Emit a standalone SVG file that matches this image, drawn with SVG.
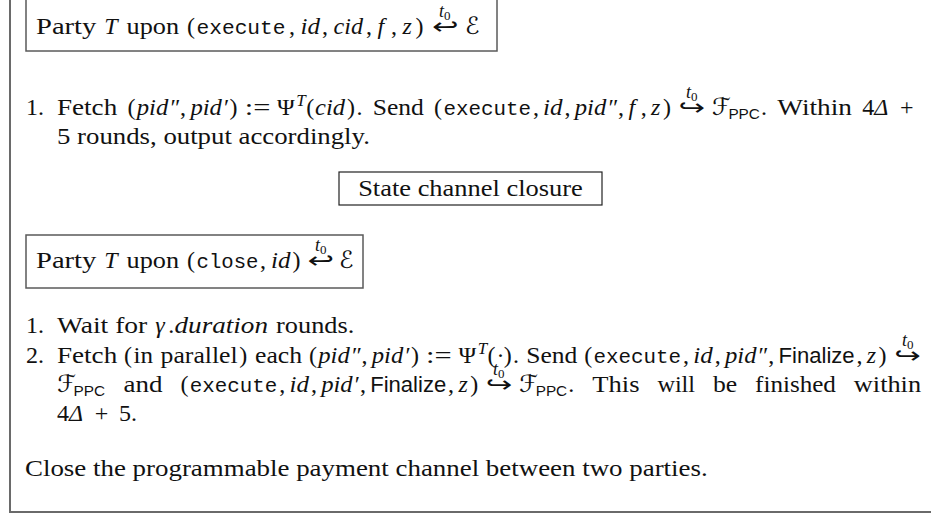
<svg xmlns="http://www.w3.org/2000/svg" width="931" height="516" viewBox="0 0 931 516">
<style>
text{font-family:"Liberation Serif","Times New Roman",serif;font-size:24px;fill:#111}
.it{font-style:italic}
.tt{font-family:"Liberation Mono","Courier New",monospace;font-size:21px;font-style:normal}
.sf{font-family:"Liberation Sans",Arial,sans-serif;font-size:22px;font-style:normal}
.sub{font-family:"Liberation Sans",Arial,sans-serif;font-size:15px}
.sup{font-style:italic;font-size:17px}
.cal{font-family:"DejaVu Serif","DejaVu Sans",serif;font-style:normal}
.ar{font-family:"DejaVu Sans",sans-serif;font-size:22px}
.lt{font-style:italic;font-size:18px}
.l0{font-size:13px;font-style:normal}
.box{fill:none;stroke:#5a5a5a;stroke-width:1.5}
.frame{fill:none;stroke:#6a6a6a;stroke-width:2}
</style>
<path class="frame" d="M10,-2 V512 H933"/>
<g id="connectors"/>

<g id="box-execute">
<rect class="box" x="26" y="-3" width="471" height="54"/>
<text y="34"><tspan x="36" textLength="60.3" lengthAdjust="spacingAndGlyphs">Party</tspan><tspan x="104.3" class="it">T</tspan><tspan x="126.5" textLength="52.5" lengthAdjust="spacingAndGlyphs">upon</tspan><tspan x="187.1">(</tspan><tspan x="196.5" class="tt" textLength="89" lengthAdjust="spacingAndGlyphs">execute</tspan><tspan x="289">,</tspan><tspan x="300.5" class="it" textLength="19.5" lengthAdjust="spacingAndGlyphs">id</tspan><tspan x="322">,</tspan><tspan x="333.5" class="it" textLength="29.5" lengthAdjust="spacingAndGlyphs">cid</tspan><tspan x="366">,</tspan><tspan x="377.5" class="it">f</tspan><tspan x="391">,</tspan><tspan x="402.5" class="it">z</tspan><tspan x="415.5">)</tspan><tspan x="432" class="ar" textLength="26.6" lengthAdjust="spacingAndGlyphs">↩</tspan><tspan x="465" class="cal">ℰ</tspan></text>
<text x="439" y="17" class="lt">t<tspan class="l0" dy="3">0</tspan></text>
</g>

<g id="step-execute">
<text y="115"><tspan x="26">1.</tspan><tspan x="57" textLength="60.2" lengthAdjust="spacingAndGlyphs">Fetch</tspan><tspan x="127.4">(</tspan><tspan x="136.8" class="it" textLength="31.5" lengthAdjust="spacingAndGlyphs">pid</tspan><tspan x="170.4">″</tspan><tspan x="180.1">,</tspan><tspan x="190.4" class="it" textLength="31.5" lengthAdjust="spacingAndGlyphs">pid</tspan><tspan x="224">′</tspan><tspan x="229.6">)</tspan><tspan x="244.7" textLength="25.6" lengthAdjust="spacingAndGlyphs">:=</tspan><tspan x="277">Ψ</tspan><tspan x="296.3" y="106" class="sup">T</tspan><tspan x="306.2" y="115">(</tspan><tspan x="315.1" class="it" textLength="30" lengthAdjust="spacingAndGlyphs">cid</tspan><tspan x="347">)</tspan><tspan x="356.4">.</tspan><tspan x="372.8" textLength="51.1" lengthAdjust="spacingAndGlyphs">Send</tspan><tspan x="434.1">(</tspan><tspan x="443.5" class="tt" textLength="87.5" lengthAdjust="spacingAndGlyphs">execute</tspan><tspan x="533">,</tspan><tspan x="543.1" class="it" textLength="19.5" lengthAdjust="spacingAndGlyphs">id</tspan><tspan x="564.5">,</tspan><tspan x="574.8" class="it" textLength="31.5" lengthAdjust="spacingAndGlyphs">pid</tspan><tspan x="608.4">″</tspan><tspan x="618.1">,</tspan><tspan x="628.4" class="it">f</tspan><tspan x="640.8">,</tspan><tspan x="651.1" class="it">z</tspan><tspan x="662.9">)</tspan><tspan x="678.5" class="ar" textLength="26.6" lengthAdjust="spacingAndGlyphs">↪</tspan><tspan x="711.8" class="cal">ℱ</tspan><tspan x="728.4" y="119" class="sub" textLength="31.5" lengthAdjust="spacingAndGlyphs">PPC</tspan><tspan x="760.9" y="115">.</tspan><tspan x="777.3" textLength="74.7" lengthAdjust="spacingAndGlyphs">Within</tspan><tspan x="862.2">4</tspan><tspan x="874.3" class="it">Δ</tspan><tspan x="899.9">+</tspan></text>
<text x="686" y="98" class="lt">t<tspan class="l0" dy="3">0</tspan></text>
<text x="57" y="144" textLength="312.9" lengthAdjust="spacingAndGlyphs">5 rounds, output accordingly.</text>
</g>

<g id="title-closure">
<rect x="339" y="172" width="263" height="33" fill="none" stroke="#222" stroke-width="1.2"/>
<text x="470.5" y="196" text-anchor="middle" textLength="224.7" lengthAdjust="spacingAndGlyphs">State channel closure</text>
</g>

<g id="box-close">
<rect class="box" x="26" y="235" width="337" height="53"/>
<text y="268"><tspan x="36" textLength="60.3" lengthAdjust="spacingAndGlyphs">Party</tspan><tspan x="104.3" class="it">T</tspan><tspan x="126.5" textLength="52.5" lengthAdjust="spacingAndGlyphs">upon</tspan><tspan x="187.1">(</tspan><tspan x="196.5" class="tt" textLength="62" lengthAdjust="spacingAndGlyphs">close</tspan><tspan x="260">,</tspan><tspan x="271" class="it" textLength="19.5" lengthAdjust="spacingAndGlyphs">id</tspan><tspan x="292.5">)</tspan><tspan x="307.5" class="ar" textLength="26.6" lengthAdjust="spacingAndGlyphs">↩</tspan><tspan x="339" class="cal">ℰ</tspan></text>
<text x="315" y="251" class="lt">t<tspan class="l0" dy="3">0</tspan></text>
</g>

<g id="steps-close">
<text y="333"><tspan x="26">1.</tspan><tspan x="57" textLength="90.2" lengthAdjust="spacingAndGlyphs">Wait for</tspan><tspan x="155.3" class="it">γ</tspan><tspan x="168.3">.</tspan><tspan x="174.5" class="it" textLength="93.5" lengthAdjust="spacingAndGlyphs">duration</tspan><tspan x="276.1" textLength="78.2" lengthAdjust="spacingAndGlyphs">rounds.</tspan></text>

<text y="363"><tspan x="26">2.</tspan><tspan x="57" textLength="60.2" lengthAdjust="spacingAndGlyphs">Fetch</tspan><tspan x="124.1">(</tspan><tspan x="133.5" textLength="19.5" lengthAdjust="spacingAndGlyphs">in</tspan><tspan x="160.6" textLength="77" lengthAdjust="spacingAndGlyphs">parallel</tspan><tspan x="239.2">)</tspan><tspan x="255" textLength="47" lengthAdjust="spacingAndGlyphs">each</tspan><tspan x="308.9">(</tspan><tspan x="318.3" class="it" textLength="31.5" lengthAdjust="spacingAndGlyphs">pid</tspan><tspan x="351.9">″</tspan><tspan x="361.6">,</tspan><tspan x="371.8" class="it" textLength="31.5" lengthAdjust="spacingAndGlyphs">pid</tspan><tspan x="405.4">′</tspan><tspan x="411">)</tspan><tspan x="426.1" textLength="25.6" lengthAdjust="spacingAndGlyphs">:=</tspan><tspan x="458.4">Ψ</tspan><tspan x="477.7" y="354" class="sup">T</tspan><tspan x="487.6" y="363">(</tspan><tspan x="496.5">·</tspan><tspan x="503.7">)</tspan><tspan x="513.1">.</tspan><tspan x="526.2" textLength="51.1" lengthAdjust="spacingAndGlyphs">Send</tspan><tspan x="584.2">(</tspan><tspan x="593.6" class="tt" textLength="87.5" lengthAdjust="spacingAndGlyphs">execute</tspan><tspan x="683">,</tspan><tspan x="693.3" class="it" textLength="19.5" lengthAdjust="spacingAndGlyphs">id</tspan><tspan x="714.7">,</tspan><tspan x="725" class="it" textLength="31.5" lengthAdjust="spacingAndGlyphs">pid</tspan><tspan x="758.6">″</tspan><tspan x="768.3">,</tspan><tspan x="778.6" class="sf" textLength="76" lengthAdjust="spacingAndGlyphs">Finalize</tspan><tspan x="856.5">,</tspan><tspan x="866.8" class="it">z</tspan><tspan x="878.6">)</tspan><tspan x="894.2" class="ar" textLength="26.6" lengthAdjust="spacingAndGlyphs">↪</tspan></text>
<text x="902" y="346" class="lt">t<tspan class="l0" dy="3">0</tspan></text>

<text y="392"><tspan x="57" class="cal">ℱ</tspan><tspan x="73.6" y="396" class="sub" textLength="31.5" lengthAdjust="spacingAndGlyphs">PPC</tspan><tspan x="123.5" y="392" textLength="39" lengthAdjust="spacingAndGlyphs">and</tspan><tspan x="180.4">(</tspan><tspan x="189.8" class="tt" textLength="87.5" lengthAdjust="spacingAndGlyphs">execute</tspan><tspan x="279.2">,</tspan><tspan x="289.5" class="it" textLength="19.5" lengthAdjust="spacingAndGlyphs">id</tspan><tspan x="310.9">,</tspan><tspan x="321.2" class="it" textLength="31.5" lengthAdjust="spacingAndGlyphs">pid</tspan><tspan x="354.8">′</tspan><tspan x="359.9">,</tspan><tspan x="370.2" class="sf" textLength="76" lengthAdjust="spacingAndGlyphs">Finalize</tspan><tspan x="448.1">,</tspan><tspan x="458.4" class="it">z</tspan><tspan x="470.2">)</tspan><tspan x="485.8" class="ar" textLength="26.6" lengthAdjust="spacingAndGlyphs">↪</tspan><tspan x="519.1" class="cal">ℱ</tspan><tspan x="535.7" y="396" class="sub" textLength="31.5" lengthAdjust="spacingAndGlyphs">PPC</tspan><tspan x="568.2" y="392">.</tspan><tspan x="592.3" textLength="47.2" lengthAdjust="spacingAndGlyphs">This</tspan><tspan x="657.4" textLength="37.7" lengthAdjust="spacingAndGlyphs">will</tspan><tspan x="713" textLength="24.2" lengthAdjust="spacingAndGlyphs">be</tspan><tspan x="755.1" textLength="80.8" lengthAdjust="spacingAndGlyphs">finished</tspan><tspan x="853.8" textLength="67.3" lengthAdjust="spacingAndGlyphs">within</tspan></text>
<text x="493" y="375" class="lt">t<tspan class="l0" dy="3">0</tspan></text>

<text y="421"><tspan x="57">4</tspan><tspan x="69.1" class="it">Δ</tspan><tspan x="94.7">+</tspan><tspan x="118.9">5</tspan><tspan x="131">.</tspan></text>
</g>

<g id="caption">
<text x="25" y="476" textLength="682.7" lengthAdjust="spacingAndGlyphs">Close the programmable payment channel between two parties.</text>
</g>
</svg>
